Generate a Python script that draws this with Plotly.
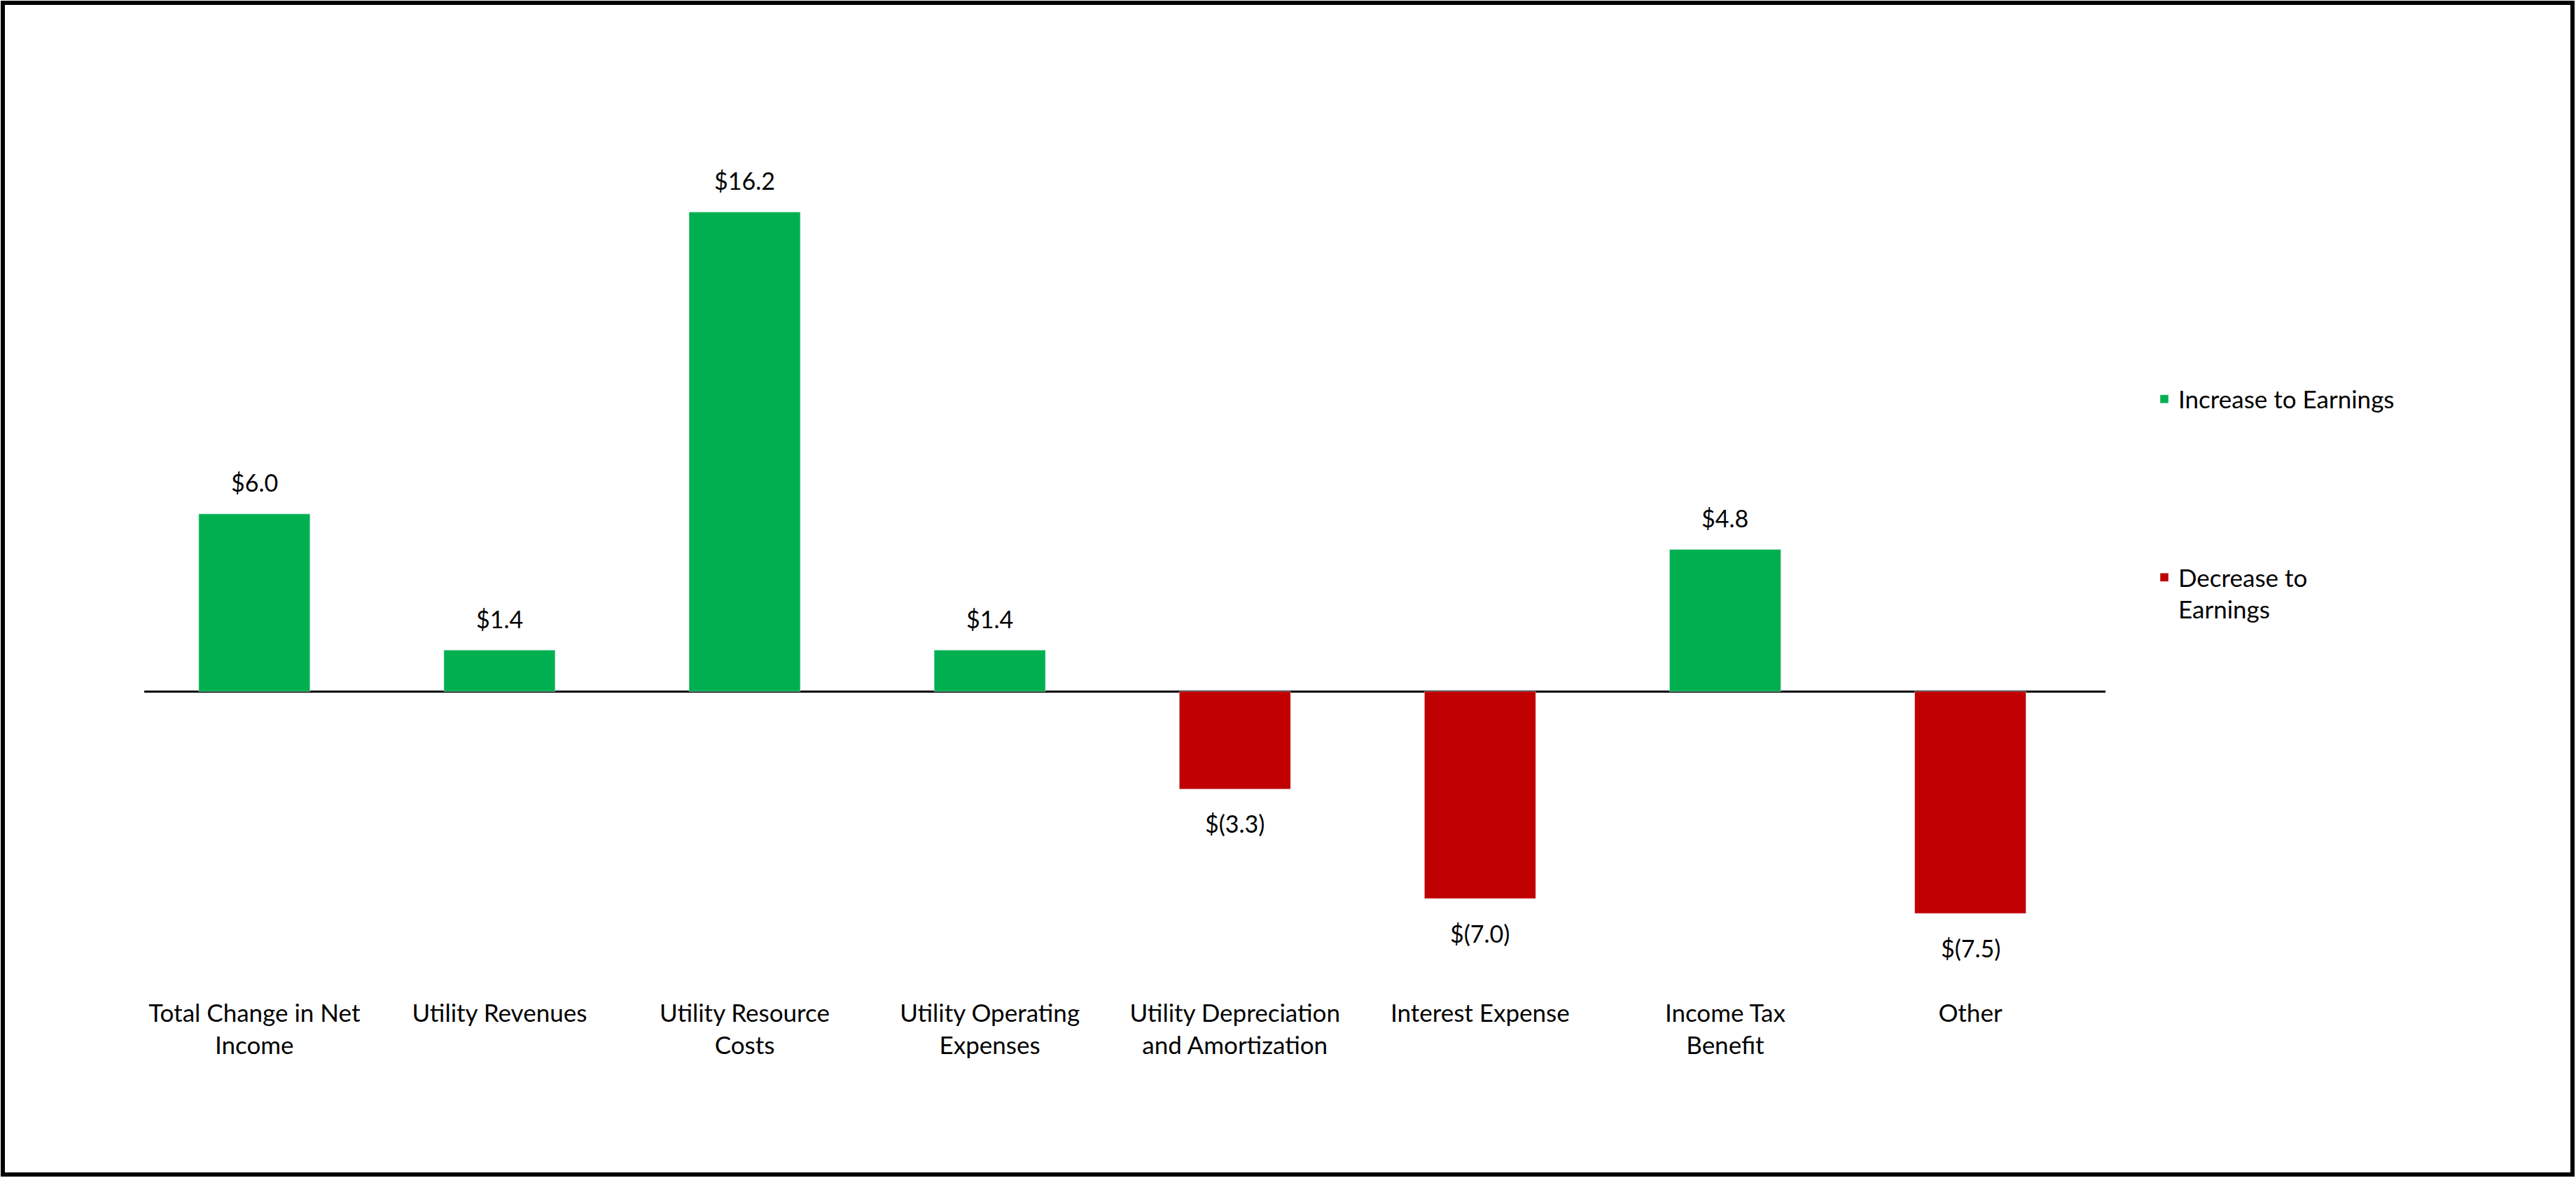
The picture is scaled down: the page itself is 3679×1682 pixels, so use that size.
import plotly.graph_objects as go

categories = [
    "Total Change in Net<br>Income",
    "Utility Revenues",
    "Utility Resource<br>Costs",
    "Utility Operating<br>Expenses",
    "Utility Depreciation<br>and Amortization",
    "Interest Expense",
    "Income Tax<br>Benefit",
    "Other",
]
values = [6.0, 1.4, 16.2, 1.4, -3.3, -7.0, 4.8, -7.5]
series_names = ["Increase to Earnings", "Decrease to<br>Earnings"]
colors = ["#00B050", "#C00000"]


def fmt(v):
    return f"${v:.1f}" if v >= 0 else f"$({abs(v):.1f})"


W, H = 3679, 1682
L, R, T, B = 206, 672, 60, 282
pw, ph = W - L - R, H - T - B
ZERO_PX = 987.3
PX_PER_UNIT = 42.25
y_top = (ZERO_PX - T) / PX_PER_UNIT
y_bot = -((H - B) - ZERO_PX) / PX_PER_UNIT
CAT0_PX, CAT_STEP = 363.3, 350.1
x_lo = (L - CAT0_PX) / CAT_STEP
x_hi = (W - R - CAT0_PX) / CAT_STEP

FONT = "Lato"
FS = 35
FS_VAL = 34

inc = [v if v > 0 else None for v in values]
dec = [v if v < 0 else None for v in values]

fig = go.Figure()
fig.add_trace(go.Bar(x=categories, y=inc, name=series_names[0], marker_color=colors[0],
                     width=0.454, legend="legend", showlegend=True))
fig.add_trace(go.Bar(x=categories, y=dec, name=series_names[1], marker_color=colors[1],
                     width=0.454, legend="legend2", showlegend=True))

for c, v in zip(categories, values):
    fig.add_annotation(x=c, y=v, text=fmt(v), showarrow=False,
                       yanchor="middle", yshift=45 if v >= 0 else -49,
                       font=dict(family=FONT, size=FS_VAL, color="black"))


def px_x(p):
    return (p - L) / pw


def px_y(p):
    return ((H - B) - p) / ph


fig.add_shape(type="rect", xref="paper", yref="paper",
              x0=px_x(4), x1=px_x(W - 5), y0=px_y(H - 5), y1=px_y(4),
              line=dict(color="black", width=6), fillcolor="rgba(0,0,0,0)", layer="above")

fig.update_layout(
    width=W, height=H,
    margin=dict(l=L, r=R, t=T, b=B),
    paper_bgcolor="white", plot_bgcolor="white",
    barmode="overlay",
    showlegend=True,
    font=dict(family=FONT, size=FS, color="black"),
    xaxis=dict(showgrid=False, showline=False, ticks="", tickfont=dict(size=FS),
               range=[x_lo, x_hi], ticklabelstandoff=23),
    yaxis=dict(range=[y_bot, y_top], showgrid=False, showticklabels=False, ticks="",
               zeroline=True, zerolinecolor="black", zerolinewidth=3, showline=False),
    legend=dict(x=px_x(3071), y=px_y(570), xanchor="left", yanchor="middle",
                bgcolor="rgba(0,0,0,0)", font=dict(size=FS), valign="top"),
    legend2=dict(x=px_x(3071), y=px_y(847), xanchor="left", yanchor="middle",
                 bgcolor="rgba(0,0,0,0)", font=dict(size=FS), valign="top"),
)

fig.write_html("out.html", config={"displayModeBar": False},
               post_script="document.body.style.margin='0';")
